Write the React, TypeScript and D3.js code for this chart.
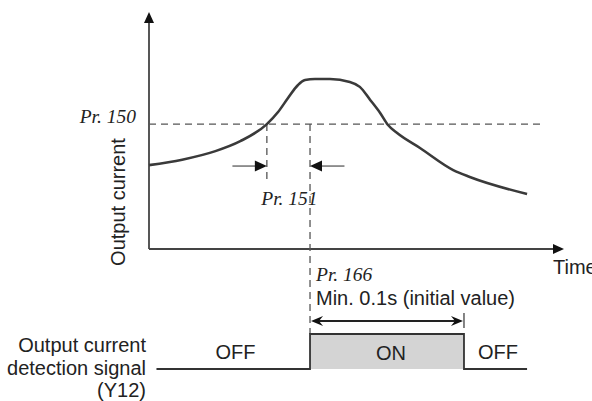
import React from "react";
import * as d3 from "d3";

// Output current curve (time units 0..100, current units 0..100)
const curveTime = [0, 8, 16, 22, 28.4, 31.1, 33.5, 35.9, 37.6, 40, 43.6, 48.4, 50.8, 53.3, 55.7, 57.6, 59.8, 65.3, 73.3, 77.3, 91.1];
const curveCurrent = [35.4, 37.7, 41.3, 45.5, 52.7, 57.8, 63.7, 69.2, 71.3, 71.7, 71.7, 70.5, 68.4, 62.9, 57.4, 52.3, 48.9, 42.6, 33.3, 30.4, 23.2];

const threshold = 52.7; // Pr. 150 level
const crossTime = 28.4; // curve reaches Pr. 150
const onTime = 38.8; // after Pr. 151 delay
const offTime = 75.9; // Pr. 166 hold end
const dashEnd = 94.5;
const pr151ArrowFrom = 20.1;
const pr151ArrowTo = 47.1;
const pr151DashBottom = 28;
const signalStart = 1.8;
const signalEnd = 91.1;
const signalLevels = [0, 1]; // OFF, ON

const leftLabels = ["Output current", "detection signal", "(Y12)"];
const stateLabels = ["OFF", "ON", "OFF"];

const W = 592;
const H = 401;

export default function App() {
  const x = d3.scaleLinear().domain([0, 100]).range([149, 564]);
  const y = d3.scaleLinear().domain([0, 100]).range([249, 12]);
  const ys = d3.scaleLinear().domain([0, 1]).range([369, 334]);

  const pts: [number, number][] = curveTime.map((t, i) => [t, curveCurrent[i]]);
  const line = d3
    .line<[number, number]>()
    .x((d) => x(d[0]))
    .y((d) => y(d[1]))
    .curve(d3.curveMonotoneX);

  const sans = "Arial, 'Liberation Sans', Helvetica, sans-serif";
  const serif = "'Times New Roman', 'Liberation Serif', serif";
  const ink = "#222";
  const axis = "#444";
  const dash = "#555";

  const x0 = x(0);
  const yT = y(threshold);
  const xc = x(crossTime);
  const xon = x(onTime);
  const xoff = x(offTime);
  const yArr = y(35);
  const yLow = ys(signalLevels[0]);
  const yHigh = ys(signalLevels[1]);
  const yDbl = ys(1) - 13;

  const tri = (tx: number, ty: number, dir: "up" | "right" | "left", len: number, half: number) => {
    if (dir === "up") return `M${tx},${ty} L${tx - half},${ty + len} L${tx + half},${ty + len} Z`;
    if (dir === "right") return `M${tx},${ty} L${tx - len},${ty - half} L${tx - len},${ty + half} Z`;
    return `M${tx},${ty} L${tx + len},${ty - half} L${tx + len},${ty + half} Z`;
  };

  const fs = 20;

  return (
    <svg width={W} height={H} style={{ display: "block", position: "absolute", left: 0, top: 0 }}>
      <rect width={W} height={H} fill="#fff" />
      {/* axes */}
      <line x1={x0} y1={y(0)} x2={x0} y2={y(100) + 8} stroke={axis} strokeWidth={1.8} />
      <path d={tri(x0, y(100), "up", 11, 5)} fill="#111" />
      <line x1={x0} y1={y(0)} x2={x(100) - 8} y2={y(0)} stroke={axis} strokeWidth={1.8} />
      <path d={tri(x(100), y(0), "right", 11, 5)} fill="#111" />

      {/* threshold dashed */}
      <line x1={x0} y1={yT} x2={x(dashEnd)} y2={yT} stroke={dash} strokeWidth={1.3} strokeDasharray="7,5" />
      <line x1={xc} y1={yT} x2={xc} y2={y(pr151DashBottom)} stroke={dash} strokeWidth={1.3} strokeDasharray="7,5" />
      <line x1={xon} y1={yT} x2={xon} y2={yHigh} stroke={dash} strokeWidth={1.3} strokeDasharray="7,5" />

      {/* curve */}
      <path d={line(pts) || ""} fill="none" stroke="#3a3a3a" strokeWidth={2.6} strokeLinejoin="round" />

      {/* Pr.151 arrows */}
      <line x1={x(pr151ArrowFrom)} y1={yArr} x2={xc - 10} y2={yArr} stroke="#666" strokeWidth={1.4} />
      <path d={tri(xc, yArr, "right", 12, 5.5)} fill="#111" />
      <line x1={xon + 10} y1={yArr} x2={x(pr151ArrowTo)} y2={yArr} stroke="#666" strokeWidth={1.4} />
      <path d={tri(xon, yArr, "left", 12, 5.5)} fill="#111" />
      <text x={(xc + xon) / 2 + 1} y={205} fontFamily={serif} fontStyle="italic" fontSize={19.5} fill={ink} textAnchor="middle">
        Pr. 151
      </text>

      {/* labels */}
      <text x={136} y={123} fontFamily={serif} fontStyle="italic" fontSize={19.5} fill={ink} textAnchor="end">
        Pr. 150
      </text>
      <text
        transform={`translate(125,202) rotate(-90)`}
        fontFamily={sans}
        fontSize={fs}
        fill={ink}
        textAnchor="middle"
      >
        Output current
      </text>
      <text x={553} y={274} fontFamily={sans} fontSize={fs} fill={ink}>
        Time
      </text>
      <text x={xon + 6} y={281} fontFamily={serif} fontStyle="italic" fontSize={19.5} fill={ink}>
        Pr. 166
      </text>
      <text x={xon + 6} y={305} fontFamily={sans} fontSize={fs} fill={ink}>
        Min. 0.1s (initial value)
      </text>

      {/* double arrow */}
      <line x1={xoff} y1={yDbl - 8} x2={xoff} y2={yDbl + 7} stroke="#333" strokeWidth={1.2} />
      <line x1={xon + 8} y1={yDbl} x2={xoff - 8} y2={yDbl} stroke="#222" strokeWidth={1.8} />
      <path d={`M${xon + 1},${yDbl} L${xon + 13},${yDbl - 5} L${xon + 9},${yDbl} L${xon + 13},${yDbl + 5} Z`} fill="#111" />
      <path d={`M${xoff - 1},${yDbl} L${xoff - 13},${yDbl - 5} L${xoff - 9},${yDbl} L${xoff - 13},${yDbl + 5} Z`} fill="#111" />

      {/* signal */}
      <rect x={xon} y={yHigh} width={xoff - xon} height={yLow - yHigh} fill="#d4d4d4" />
      <path
        d={`M${x(signalStart)},${yLow} L${xon},${yLow} L${xon},${yHigh} L${xoff},${yHigh} L${xoff},${yLow} L${x(signalEnd)},${yLow}`}
        fill="none"
        stroke="#333"
        strokeWidth={1.8}
      />
      <text x={235.5} y={359} fontFamily={sans} fontSize={fs} fill={ink} textAnchor="middle">
        {stateLabels[0]}
      </text>
      <text x={(xon + xoff) / 2 + 4} y={360} fontFamily={sans} fontSize={fs} fill={ink} textAnchor="middle">
        {stateLabels[1]}
      </text>
      <text x={498} y={359} fontFamily={sans} fontSize={fs} fill={ink} textAnchor="middle">
        {stateLabels[2]}
      </text>

      {leftLabels.map((l, i) => (
        <text key={i} x={146} y={352 + i * 22.5} fontFamily={sans} fontSize={fs} fill={ink} textAnchor="end">
          {l}
        </text>
      ))}
    </svg>
  );
}
